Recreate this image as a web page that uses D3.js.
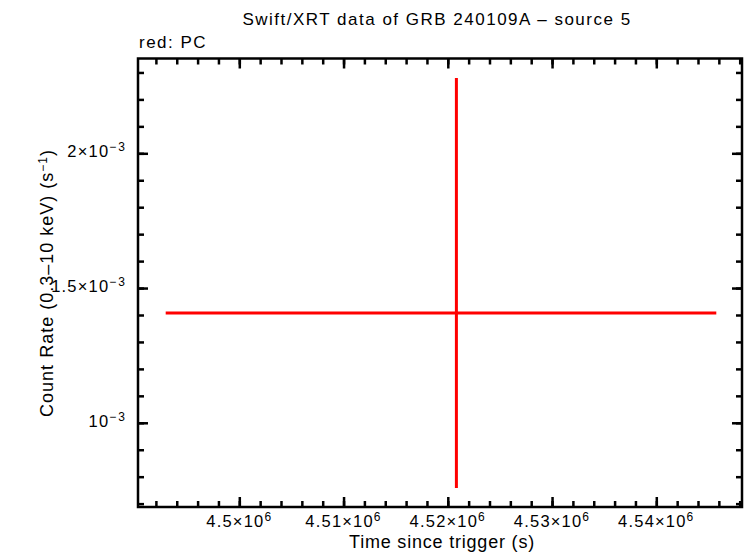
<!DOCTYPE html>
<html>
<head>
<meta charset="utf-8">
<script src="https://cdn.jsdelivr.net/npm/d3@7"></script>
<style>
body { margin: 0; background: #fff; }
text { font-family: "Liberation Sans", Arial, sans-serif; fill: #000; }
</style>
</head>
<body>
<svg width="746" height="558"></svg>
<script>
// one PC-mode bin
var times = [4.520825e6];
var timeErrPos = [24930];
var timeErrNeg = [27885];
var rates = [1.407e-3];
var rateErrPos = [0.872e-3];
var rateErrNeg = [0.649e-3];

// tick labels: [mantissa, exponent]
var xMajor = [4.50e6, 4.51e6, 4.52e6, 4.53e6, 4.54e6];
var xLabels = [["4.5×10", "6"], ["4.51×10", "6"], ["4.52×10", "6"], ["4.53×10", "6"], ["4.54×10", "6"]];
var yMajor = [1e-3, 1.5e-3, 2e-3];
var yLabels = [["10", "−3"], ["1.5×10", "−3"], ["2×10", "−3"]];

var pLeft = 138, pRight = 742, pTop = 58.5, pBottom = 507;

var x = d3.scaleLinear().domain([4.490283e6, 4.548221e6]).range([pLeft, pRight]);
var y = d3.scaleLinear().domain([0.6875e-3, 2.3518e-3]).range([pBottom, pTop]);

var xMinor = d3.range(4.492e6, 4.5482e6, 2000);
var yMinor = d3.range(7, 24).map(function(k) { return k * 1e-4; });

var svg = d3.select('svg');

function ticks(axis, tx, ty) {
  var g = svg.append('g')
    .attr('transform', 'translate(' + tx + ',' + ty + ')')
    .call(axis.tickFormat(''));
  g.select('.domain').remove();
  g.selectAll('line').attr('stroke', '#000').attr('stroke-width', 2.5);
}

// minor + major ticks on all four sides, pointing inwards
ticks(d3.axisBottom(x).tickValues(xMinor).tickSize(-6), 0, pBottom);
ticks(d3.axisBottom(x).tickValues(xMajor).tickSize(-10), 0, pBottom);
ticks(d3.axisTop(x).tickValues(xMinor).tickSize(-6), 0, pTop);
ticks(d3.axisTop(x).tickValues(xMajor).tickSize(-10), 0, pTop);
ticks(d3.axisLeft(y).tickValues(yMinor).tickSize(-6), pLeft, 0);
ticks(d3.axisLeft(y).tickValues(yMajor).tickSize(-10), pLeft, 0);
ticks(d3.axisRight(y).tickValues(yMinor).tickSize(-6), pRight, 0);
ticks(d3.axisRight(y).tickValues(yMajor).tickSize(-10), pRight, 0);

svg.append('rect')
  .attr('x', pLeft).attr('y', pTop)
  .attr('width', pRight - pLeft).attr('height', pBottom - pTop)
  .attr('fill', 'none').attr('stroke', '#000').attr('stroke-width', 2.5);

// x tick labels
svg.append('g').selectAll('text')
  .data(xMajor)
  .enter()
  .append('text')
  .attr('x', function(d) { return x(d); })
  .attr('y', 527)
  .attr('text-anchor', 'middle')
  .attr('font-size', 16.5)
  .attr('letter-spacing', 1.2)
  .each(function(d, i) {
    var t = d3.select(this);
    t.append('tspan').text(xLabels[i][0]);
    t.append('tspan').attr('dy', -6).attr('font-size', 12).text(xLabels[i][1]);
  });

// y tick labels
svg.append('g').selectAll('text')
  .data(yMajor)
  .enter()
  .append('text')
  .attr('x', 127)
  .attr('y', function(d) { return y(d) + 4; })
  .attr('text-anchor', 'end')
  .attr('font-size', 16.5)
  .attr('letter-spacing', 1.2)
  .each(function(d, i) {
    var t = d3.select(this);
    t.append('tspan').text(yLabels[i][0]);
    t.append('tspan').attr('dy', -6).attr('font-size', 12).attr('letter-spacing', 2).text(yLabels[i][1]);
  });

// error bars
var pts = times.map(function(t, i) { return i; });
var eb = svg.append('g').attr('stroke', '#ff0000').attr('stroke-width', 3);
eb.selectAll('.h').data(pts).enter().append('line')
  .attr('x1', function(i) { return x(times[i] - timeErrNeg[i]); })
  .attr('x2', function(i) { return x(times[i] + timeErrPos[i]); })
  .attr('y1', function(i) { return y(rates[i]); })
  .attr('y2', function(i) { return y(rates[i]); });
eb.selectAll('.v').data(pts).enter().append('line')
  .attr('x1', function(i) { return x(times[i]); })
  .attr('x2', function(i) { return x(times[i]); })
  .attr('y1', function(i) { return y(rates[i] - rateErrNeg[i]); })
  .attr('y2', function(i) { return y(rates[i] + rateErrPos[i]); });

// titles
svg.append('text')
  .attr('x', 437).attr('y', 25)
  .attr('text-anchor', 'middle')
  .attr('font-size', 17).attr('letter-spacing', 1.5)
  .text('Swift/XRT data of GRB 240109A – source 5');

svg.append('text')
  .attr('x', 139).attr('y', 48)
  .attr('font-size', 17).attr('letter-spacing', 1.5)
  .text('red: PC');

svg.append('text')
  .attr('x', 442).attr('y', 548)
  .attr('text-anchor', 'middle')
  .attr('font-size', 18).attr('letter-spacing', 0.8)
  .text('Time since trigger (s)');

var yt = svg.append('text')
  .attr('transform', 'translate(53,283) rotate(-90)')
  .attr('text-anchor', 'middle')
  .attr('font-size', 18).attr('letter-spacing', 1);
yt.append('tspan').text('Count Rate (0.3–10 keV) (s');
yt.append('tspan').attr('dy', -6).attr('font-size', 12).text('−1');
yt.append('tspan').attr('dy', 6).text(')');
</script>
</body>
</html>
